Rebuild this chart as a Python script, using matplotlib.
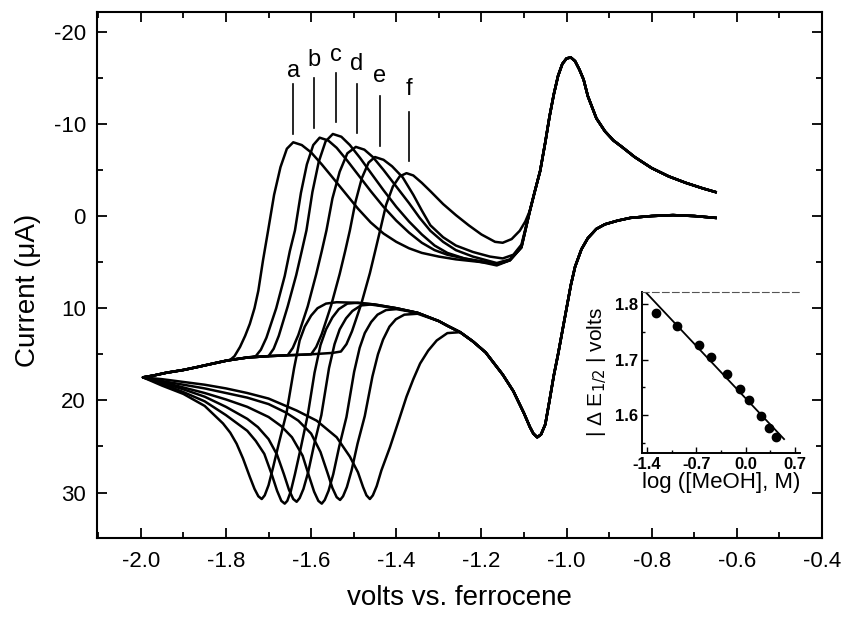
import matplotlib
matplotlib.use("Agg")
import matplotlib.pyplot as plt
from matplotlib.ticker import MultipleLocator, FixedLocator

plt.rcParams['font.family'] = ['Liberation Sans', 'DejaVu Sans']
plt.rcParams['axes.unicode_minus'] = False

# ---------------- main CV data (E in V vs Fc, I in uA) ----------------
# common forward scan, right part (-0.65 -> -1.25 V)
cf_E = [-0.65, -0.70, -0.75, -0.80, -0.85, -0.88, -0.91, -0.93, -0.95, -0.965, -0.98, -0.99,
        -1.00, -1.01, -1.02, -1.03, -1.04, -1.05, -1.06, -1.069, -1.078, -1.086, -1.10, -1.125,
        -1.15, -1.19, -1.22, -1.25]
cf_I = [0.2, 0.0, -0.1, 0.0, 0.2, 0.5, 0.9, 1.4, 2.4, 3.6, 5.5, 7.5,
        10.0, 12.5, 15.0, 17.3, 20.0, 22.6, 23.7, 24.0, 23.6, 22.9, 21.4, 19.0,
        17.2, 14.8, 13.6, 12.6]

# forward scans, left part, one per curve
a_fwd_E = [-1.28, -1.30, -1.35, -1.40, -1.45, -1.50, -1.54, -1.565, -1.585, -1.60, -1.615, -1.627,
           -1.64, -1.658, -1.675, -1.689, -1.70, -1.709, -1.716, -1.724, -1.733, -1.744, -1.76,
           -1.775, -1.79, -1.807, -1.85, -1.90, -1.95, -1.995]
a_fwd_I = [11.9, 11.4, 10.5, 10.0, 9.6, 9.4, 9.35, 9.5, 10.0, 10.8, 12.0, 13.5,
           16.5, 21.4, 24.5, 27.2, 29.2, 30.3, 30.7, 30.4, 29.6, 28.3, 26.3,
           24.7, 23.5, 22.5, 20.6, 19.3, 18.4, 17.5]
b_fwd_E = [-1.28, -1.30, -1.35, -1.40, -1.45, -1.49, -1.515, -1.535, -1.55, -1.565, -1.578, -1.592,
           -1.608, -1.625, -1.638, -1.648, -1.656, -1.662, -1.670, -1.680, -1.692, -1.71, -1.73,
           -1.75, -1.80, -1.85, -1.90, -1.95, -1.995]
b_fwd_I = [11.9, 11.4, 10.5, 10.0, 9.6, 9.4, 9.5, 10.1, 11.0, 12.3, 14.0, 17.0,
           21.6, 25.3, 28.0, 29.9, 30.9, 31.2, 30.9, 29.8, 28.1, 25.8, 24.4,
           23.3, 21.6, 20.1, 19.1, 18.2, 17.5]
c_fwd_E = [-1.28, -1.30, -1.35, -1.40, -1.46, -1.483, -1.503, -1.518, -1.533, -1.545, -1.558, -1.576,
           -1.593, -1.607, -1.618, -1.627, -1.634, -1.642, -1.652, -1.664, -1.68, -1.70, -1.725,
           -1.75, -1.80, -1.85, -1.90, -1.95, -1.995]
c_fwd_I = [11.9, 11.4, 10.5, 10.0, 9.6, 9.7, 10.3, 11.1, 12.3, 13.9, 16.5, 21.6,
           24.8, 27.8, 29.6, 30.6, 31.0, 30.7, 29.7, 28.0, 25.9, 24.2, 22.9,
           22.0, 20.7, 19.6, 18.8, 18.1, 17.5]
d_fwd_E = [-1.28, -1.30, -1.35, -1.40, -1.424, -1.444, -1.459, -1.474, -1.486, -1.499, -1.517, -1.534,
           -1.548, -1.559, -1.568, -1.575, -1.583, -1.593, -1.605, -1.62, -1.645, -1.67, -1.70,
           -1.75, -1.80, -1.85, -1.90, -1.95, -1.995]
d_fwd_I = [11.9, 11.4, 10.5, 10.1, 10.2, 10.7, 11.5, 12.7, 14.3, 16.9, 21.8, 25.0,
           28.0, 29.8, 30.8, 31.2, 30.9, 29.9, 28.2, 26.0, 24.0, 22.8, 21.8,
           20.7, 19.9, 19.2, 18.6, 18.0, 17.5]
e_fwd_E = [-1.28, -1.30, -1.35, -1.381, -1.401, -1.416, -1.431, -1.443, -1.456, -1.474, -1.491, -1.505,
           -1.516, -1.525, -1.532, -1.540, -1.550, -1.562, -1.578, -1.60, -1.63, -1.66, -1.70,
           -1.75, -1.80, -1.85, -1.90, -1.95, -1.995]
e_fwd_I = [11.9, 11.4, 10.6, 10.7, 11.2, 12.0, 13.4, 15.0, 17.4, 21.7, 24.7, 27.6,
           29.4, 30.4, 30.8, 30.5, 29.5, 27.8, 25.6, 23.6, 22.2, 21.3, 20.4,
           19.7, 19.2, 18.7, 18.3, 17.9, 17.5]
f_fwd_E = [-1.28, -1.305, -1.325, -1.344, -1.36, -1.376, -1.395, -1.415, -1.435, -1.446, -1.455, -1.462,
           -1.470, -1.478, -1.49, -1.509, -1.54, -1.587, -1.634, -1.70, -1.75, -1.80, -1.85,
           -1.90, -1.95, -1.995]
f_fwd_I = [12.7, 13.5, 14.6, 16.0, 17.7, 19.6, 22.3, 25.1, 27.6, 29.3, 30.3, 30.7,
           30.3, 29.4, 27.8, 26.1, 24.0, 22.2, 21.1, 19.8, 19.2, 18.7, 18.3,
           18.0, 17.7, 17.5]

# common reverse scan start (-2.0 V upward)
rb_E = [-1.995, -1.97, -1.94, -1.90, -1.869, -1.83, -1.80, -1.78, -1.75, -1.70, -1.65, -1.60, -1.55, -1.52]
rb_I = [17.5, 17.3, 17.0, 16.7, 16.4, 16.0, 15.7, 15.55, 15.35, 15.2, 15.1, 15.0, 14.85, 14.7]

# reverse scans, per curve (oxidation peaks a-f and tails)
a_ret_E = [-1.79, -1.78, -1.767, -1.755, -1.744, -1.733, -1.724, -1.713, -1.701, -1.687, -1.672, -1.657,
           -1.642, -1.622, -1.60, -1.575, -1.55, -1.52, -1.49, -1.46, -1.43, -1.40, -1.37, -1.34,
           -1.30, -1.26, -1.22, -1.18, -1.16, -1.133, -1.106]
a_ret_I = [15.6, 15.2, 14.2, 13.0, 11.7, 10.0, 8.1, 4.8, 1.56, -2.3, -5.3, -7.3,
           -8.0, -7.7, -6.9, -5.6, -4.2, -2.5, -0.8, 0.7, 1.9, 2.8, 3.5, 4.0,
           4.4, 4.7, 4.9, 5.1, 5.2, 4.8, 3.4]
b_ret_E = [-1.73, -1.718, -1.705, -1.682, -1.662, -1.65, -1.638, -1.624, -1.61, -1.595, -1.580, -1.56,
           -1.54, -1.515, -1.49, -1.46, -1.43, -1.40, -1.37, -1.34, -1.31, -1.28, -1.24, -1.20,
           -1.16, -1.133, -1.106]
b_ret_I = [15.2, 14.5, 13.2, 10.0, 6.5, 3.8, 1.56, -2.5, -5.6, -7.7, -8.5, -8.2,
           -7.4, -6.0, -4.5, -2.7, -1.0, 0.5, 1.8, 2.9, 3.7, 4.2, 4.6, 4.9,
           5.2, 4.8, 3.4]
c_ret_E = [-1.70, -1.688, -1.676, -1.655, -1.635, -1.622, -1.611, -1.597, -1.582, -1.566, -1.549, -1.529,
           -1.509, -1.485, -1.46, -1.43, -1.40, -1.37, -1.34, -1.31, -1.28, -1.24, -1.20, -1.164,
           -1.133, -1.106]
c_ret_I = [15.2, 14.4, 13.0, 9.8, 6.4, 3.8, 1.56, -2.6, -5.9, -8.1, -8.9, -8.6,
           -7.7, -6.3, -4.7, -2.8, -1.0, 0.6, 2.0, 3.2, 4.0, 4.6, 5.0, 5.36,
           4.8, 3.4]
d_ret_E = [-1.655, -1.643, -1.63, -1.608, -1.588, -1.575, -1.564, -1.55, -1.533, -1.515, -1.495, -1.475,
           -1.455, -1.43, -1.40, -1.37, -1.345, -1.32, -1.29, -1.26, -1.22, -1.18, -1.164, -1.133,
           -1.106]
d_ret_I = [15.1, 14.3, 12.9, 9.8, 6.3, 3.8, 1.56, -1.9, -4.8, -6.8, -7.5, -7.2,
           -6.4, -5.0, -3.2, -1.4, 0.2, 1.6, 2.8, 3.7, 4.4, 4.9, 5.1, 4.7,
           3.3]
e_ret_E = [-1.60, -1.588, -1.575, -1.553, -1.533, -1.52, -1.509, -1.496, -1.481, -1.465, -1.45, -1.43,
           -1.41, -1.385, -1.36, -1.34, -1.32, -1.29, -1.26, -1.22, -1.18, -1.15, -1.125, -1.106]
e_ret_I = [15.0, 14.2, 12.8, 9.7, 6.3, 3.8, 1.56, -1.5, -4.1, -5.8, -6.4, -6.1,
           -5.4, -4.2, -2.3, -0.6, 1.0, 2.3, 3.2, 3.9, 4.4, 4.6, 4.2, 3.1]
f_ret_E = [-1.53, -1.517, -1.504, -1.482, -1.462, -1.449, -1.438, -1.424, -1.408, -1.392, -1.376, -1.36,
           -1.34, -1.32, -1.29, -1.26, -1.23, -1.20, -1.168, -1.15, -1.129, -1.11, -1.097]
f_ret_I = [14.7, 13.9, 12.5, 9.5, 6.2, 3.7, 1.56, -1.2, -3.2, -4.3, -4.65, -4.4,
           -3.6, -2.7, -1.3, -0.1, 1.0, 2.0, 2.8, 2.9, 2.5, 1.6, 0.6]

# common reverse scan, right part (ferrocene-like couple near -1.0 V)
cr_E = [-1.086, -1.075, -1.062, -1.05, -1.04, -1.03, -1.02, -1.01, -1.0, -0.99, -0.98, -0.97,
        -0.96, -0.95, -0.93, -0.91, -0.89, -0.87, -0.84, -0.80, -0.76, -0.72, -0.68, -0.65]
cr_I = [-0.6, -2.6, -4.9, -8.0, -10.8, -13.2, -15.2, -16.5, -17.1, -17.2, -16.8, -15.9,
        -14.8, -13.0, -10.6, -9.2, -8.2, -7.5, -6.4, -5.2, -4.3, -3.6, -3.0, -2.6]

# peak labels
label_names = ['a', 'b', 'c', 'd', 'e', 'f']
label_E = [-1.642, -1.593, -1.542, -1.492, -1.4385, -1.370]
label_top = [-14.35, -15.0, -15.5, -14.35, -12.97, -11.27]
label_bot = [-8.93, -9.6, -10.2, -9.0, -7.55, -5.95]
label_text_y = [-15.1, -16.3, -16.8, -15.8, -14.5, -13.1]

# ---------------- inset data ----------------
log_meoh = [-1.278, -0.970, -0.663, -0.487, -0.270, -0.085, 0.047, 0.223, 0.331, 0.430]
dE_half = [1.784, 1.760, 1.727, 1.705, 1.675, 1.648, 1.627, 1.599, 1.577, 1.561]
fit_x = [-1.406, 0.544]
fit_y = [1.820, 1.557]

# ---------------- figure ----------------
fig = plt.figure(figsize=(8.47, 6.23), dpi=100)
ax = fig.add_axes([0.1145, 0.1364, 0.856, 0.8443])

fwd = [(a_fwd_E, a_fwd_I), (b_fwd_E, b_fwd_I), (c_fwd_E, c_fwd_I),
       (d_fwd_E, d_fwd_I), (e_fwd_E, e_fwd_I), (f_fwd_E, f_fwd_I)]
ret = [(a_ret_E, a_ret_I), (b_ret_E, b_ret_I), (c_ret_E, c_ret_I),
       (d_ret_E, d_ret_I), (e_ret_E, e_ret_I), (f_ret_E, f_ret_I)]

for (fE, fI), (rE, rI) in zip(fwd, ret):
    base = [(e, i) for e, i in zip(rb_E, rb_I) if e < rE[0] - 1e-6]
    E = cf_E + fE + [b[0] for b in base] + rE + cr_E
    I = cf_I + fI + [b[1] for b in base] + rI + cr_I
    ax.plot(E, I, color='black', lw=1.8, solid_joinstyle='round')

for name, x, t, b, ty in zip(label_names, label_E, label_top, label_bot, label_text_y):
    ax.plot([x, x], [t, b], color='black', lw=1.2)
    ax.text(x, ty, name, ha='center', va='baseline', fontsize=17)

ax.set_xlim(-2.103, -0.4)
ax.set_ylim(34.93, -22.13)
ax.xaxis.set_major_locator(FixedLocator([-2.0, -1.8, -1.6, -1.4, -1.2, -1.0, -0.8, -0.6, -0.4]))
ax.xaxis.set_minor_locator(MultipleLocator(0.1))
ax.yaxis.set_major_locator(MultipleLocator(10))
ax.yaxis.set_minor_locator(MultipleLocator(5))
ax.set_xticklabels(['-2.0', '-1.8', '-1.6', '-1.4', '-1.2', '-1.0', '-0.8', '-0.6', '-0.4'])
ax.set_yticks([-20, -10, 0, 10, 20, 30])
ax.set_yticklabels(['-20', '-10', '0', '10', '20', '30'])
ax.tick_params(which='both', direction='in', top=True, right=True, width=1.3)
ax.tick_params(which='major', length=7, labelsize=16)
ax.tick_params(axis='x', which='major', pad=9)
ax.tick_params(axis='y', which='major', pad=8)
ax.tick_params(which='minor', length=4)
for s in ax.spines.values():
    s.set_linewidth(1.5)

fig.text(28 / 847, 1 - 290 / 623, 'Current (μA)', rotation=90, ha='center', va='center', fontsize=20)
fig.text(459 / 847, 1 - 598 / 623, 'volts vs. ferrocene', ha='center', va='center', fontsize=20)

# ---------------- inset ----------------
axi = fig.add_axes([0.758, 0.2729, 0.1865, 0.2584])
axi.plot(fit_x, fit_y, color='black', lw=1.3)
axi.plot(log_meoh, dE_half, 'o', color='black', ms=6)
axi.set_xlim(-1.47, 0.77)
axi.set_ylim(1.532, 1.822)
axi.set_xticks([-1.4, -0.7, 0.0, 0.7])
axi.set_xticklabels(['-1.4', '-0.7', '0.0', '0.7'], fontweight='bold')
axi.set_yticks([1.6, 1.7, 1.8])
axi.set_yticklabels(['1.6', '1.7', '1.8'], fontweight='bold')
axi.xaxis.set_minor_locator(MultipleLocator(0.35))
axi.yaxis.set_minor_locator(MultipleLocator(0.05))
axi.tick_params(which='both', direction='in', labelsize=12, width=1.0)
axi.tick_params(which='major', length=4, pad=3)
axi.tick_params(which='minor', length=2)
axi.spines['left'].set_linewidth(1.4)
axi.spines['bottom'].set_linewidth(1.4)
axi.spines['top'].set_linewidth(0.8)
axi.spines['top'].set_linestyle((0, (6, 3)))
axi.spines['top'].set_color('#555555')
axi.spines['right'].set_visible(False)
axi.set_ylabel('| Δ E$_{1/2}$ | volts', fontsize=15, labelpad=4)
axi.set_xlabel('log ([MeOH], M)', fontsize=16, labelpad=0)

fig.savefig('out.png', dpi=100)
